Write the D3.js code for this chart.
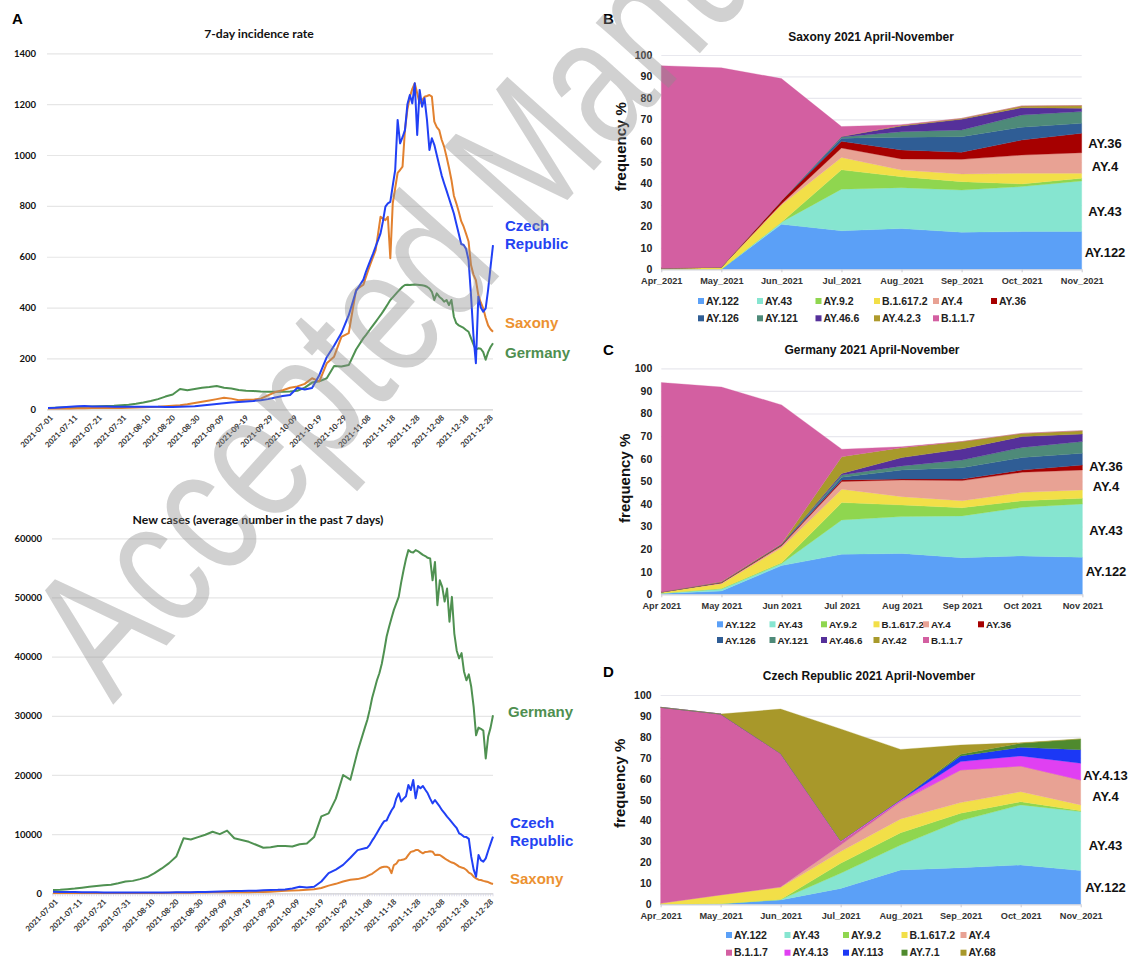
<!DOCTYPE html>
<html><head><meta charset="utf-8">
<script src="https://cdn.jsdelivr.net/npm/d3@7/dist/d3.min.js"></script>
<style>
html,body{margin:0;padding:0;background:#fff;}
svg{display:block;}
</style></head><body>
<svg id="chart" width="1132" height="960"></svg>
<script>
// ================= DATA =================
// Panel A: daily series from 2021-07-01; sampled every 3 days until day 129, then daily until day 182
const dateTicks = ["2021-07-01","2021-07-11","2021-07-21","2021-07-31","2021-08-10","2021-08-20","2021-08-30","2021-09-09","2021-09-19","2021-09-29","2021-10-09","2021-10-19","2021-10-29","2021-11-08","2021-11-18","2021-11-28","2021-12-08","2021-12-18","2021-12-28"];
const dayIdx = d3.range(0,130,3).concat(d3.range(130,183));

const incCzech = [5,6,8,10,12,13,11,11,11,10,10,10,10,10,10,10,9,9,10,11,12,15,18,21,24,27,29,31,33,36,40,46,52,56,85,78,84,135,205,250,300,370,465,510,
 540,565,590,613,640,665,692,740,797,810,816,880,941,1138,1046,1070,1098,1200,1236,1203,1282,1079,1256,1190,1223,1138,1020,1066,1040,1000,960,920,889,860,830,800,770,730,690,650,646,630,587,450,290,181,443,400,384,397,470,560,646];
const incSaxony = [3,3,3,3,4,4,5,5,5,5,5,6,7,8,9,10,12,14,16,20,25,30,35,40,45,42,36,38,38,42,55,68,75,85,90,100,122,110,181,207,285,300,470,490,
 520,548,575,600,626,690,757,750,744,757,594,810,870,930,941,954,1100,1180,1229,1260,1282,1243,1203,1215,1229,1232,1236,1230,1131,1110,1098,1060,1033,993,950,902,840,810,777,740,718,690,660,567,530,508,449,420,397,360,330,315,305];
const incGermany = [5,6,7,8,9,10,11,12,13,14,16,18,22,27,33,40,50,58,80,75,80,85,88,92,85,82,76,73,72,70,69,69,69,70,73,85,105,110,122,170,168,174,235,280,
 292,305,318,331,344,357,370,384,399,414,430,440,451,462,472,482,489,490,489,490,491,490,489,488,486,482,475,462,430,456,443,435,423,430,410,430,364,338,330,325,320,312,305,280,255,235,240,238,225,195,225,245,260];

const casesGermany = [550,600,700,800,950,1100,1250,1350,1450,1700,2000,2100,2400,2750,3400,4200,5100,6200,9300,9100,9500,9900,10400,10000,10600,9300,9000,8700,8200,7700,7800,8000,8000,7900,8300,8400,9500,13000,13500,16000,20000,19200,24000,28000,
 29300,31000,33000,34500,36000,37200,38800,41000,43400,45000,46500,47900,49000,50100,52500,54600,56500,58000,57700,57600,58000,57800,57500,57200,57000,56700,56600,52900,56000,48700,52900,51800,49300,51500,45900,50100,43900,41000,39700,40600,37500,36000,37000,34900,31500,26700,28000,27800,27500,22800,26500,28000,30100];
const casesCzech = [250,230,210,200,180,170,160,150,150,140,140,140,140,140,150,150,150,160,170,180,200,230,260,300,330,370,400,430,450,500,540,580,650,800,1100,1000,1100,2000,3400,4000,4800,6000,7300,7600,
 7700,8200,8900,9500,10200,10900,11600,12200,12300,13200,14000,14600,16050,16900,15500,16000,16400,18300,17460,19150,16050,18130,17750,18130,17500,16900,16000,15200,15770,15200,14640,14000,13500,12950,12500,12000,11500,11000,10140,9900,9570,9500,9200,6190,4000,2800,6470,5600,5340,5900,7200,8400,9570];
const casesSaxony = [40,40,40,40,40,40,40,40,40,40,40,45,50,55,60,70,80,90,100,110,130,150,160,170,180,180,180,190,200,230,280,350,420,480,500,600,700,900,1300,1600,2000,2300,2400,2700,
 2900,3100,3300,3600,3900,4200,4400,4500,4500,4300,3400,4780,5000,5600,5630,5700,5900,6500,7000,7100,7300,7320,7000,6760,7000,7030,7100,7030,6470,6500,6470,6200,5900,5630,5400,5200,5070,4800,4500,4350,4230,3940,3500,3300,2800,2530,2300,2250,2100,2000,1900,1700,1570];

const incTicks = [0,200,400,600,800,1000,1200,1400];
const casesTicks = [0,10000,20000,30000,40000,50000,60000];

// Panels B-D: monthly variant frequencies (%)
const monthsUnderscore = ["Apr_2021","May_2021","Jun_2021","Jul_2021","Aug_2021","Sep_2021","Oct_2021","Nov_2021"];
const monthsSpace = ["Apr 2021","May 2021","Jun 2021","Jul 2021","Aug 2021","Sep 2021","Oct 2021","Nov 2021"];
const freqTicks = [0,10,20,30,40,50,60,70,80,90,100];

const saxonyKeys = ["AY.122","AY.43","AY.9.2","B.1.617.2","AY.4","AY.36","AY.126","AY.121","AY.46.6","AY.4.2.3","B.1.1.7"];
const saxonyVals = [
 [0,0,21,18,19,17.3,17.6,17.6],
 [0,0,1,19.4,19.1,19.7,21,23.6],
 [0,0,0,9,5.1,3.9,1.2,1.3],
 [0.5,1,8,5.8,3.1,3.6,5,2.3],
 [0,0,0.5,4.4,5.2,6.8,8.5,9.6],
 [0,0,1.5,3.1,4.2,3.3,7,9.1],
 [0,0,0,1.5,5.9,7.3,6,4.6],
 [0,0,0,0.5,2.6,3.1,5.7,5.5],
 [0,0,0,0.3,2.7,5,3.4,1.5],
 [0,0,0,0,0.3,0.4,0.8,1.3],
 [94.5,93,57,4.6,0.3,0,0,0]
];
const germanyKeys = ["AY.122","AY.43","AY.9.2","B.1.617.2","AY.4","AY.36","AY.126","AY.121","AY.46.6","AY.42","B.1.1.7"];
const germanyVals = [
 [0.3,1.5,12.7,17.7,18.1,16.2,17,16.4],
 [0.2,0.9,0.9,15.2,16.3,18.5,21.5,23.6],
 [0,0.2,0.4,7.7,5.1,3.6,2.9,2.5],
 [0.5,2.1,6.6,5.9,3.7,3.1,3.7,3.7],
 [0,0.3,0.9,3.4,7.4,8.9,8.9,8.8],
 [0,0.2,0.3,0.7,0.4,0.7,1,2.2],
 [0,0.1,0.2,1.2,4,5,5.5,5.2],
 [0,0,0.1,1,1.8,3.4,4.5,5.2],
 [0,0,0,0.7,3.7,4.9,4.8,3.3],
 [0,0.2,0.3,7.4,4.4,3.3,1.4,1.5],
 [92.7,86.2,61.4,3.3,0.4,0,0,0]
];
const czechKeys = ["AY.122","AY.43","AY.9.2","B.1.617.2","AY.4","B.1.1.7","AY.4.13","AY.113","AY.7.1","AY.68"];
const czechVals = [
 [0,0.3,2.1,7.6,16.4,17.5,18.8,16.1],
 [0,0,0.2,7.2,11.9,22.5,28.7,28.2],
 [0,0,0,4.8,5.9,3.5,1.5,0.4],
 [0.5,4.2,5.8,5.6,6.6,5.1,4.8,2.8],
 [0,0,0.2,3.1,8.2,15.6,12.3,11.9],
 [93.6,86.4,63.8,1.6,0.3,0,0,0],
 [0,0,0,0.4,0.5,4,4.8,8],
 [0,0,0,0,0.3,2.7,4.1,6.5],
 [0,0,0,0,0,0.8,1.9,5.1],
 [0,0,21.2,53.5,23.9,4.4,0.3,0]
];

// ================= STYLE =================
const variantColor = {
 "AY.122":"#5ba0f7","AY.43":"#86e5d0","AY.9.2":"#8fd64f","B.1.617.2":"#f2df48","AY.4":"#e8a294",
 "AY.36":"#a60000","AY.126":"#2f5d95","AY.121":"#4e8a79","AY.46.6":"#55309a","AY.4.2.3":"#ae9a2c",
 "AY.42":"#a89a2b","B.1.1.7":"#d35fa1","AY.4.13":"#e040f2","AY.113":"#1c38f5","AY.7.1":"#4f8a2e","AY.68":"#a8982a"
};
const cBlue="#2140f5", cOrange="#e2812f", cGreen="#4f9151";
const fA = "Lato, 'Open Sans', sans-serif";
const fB = "'Liberation Sans', Arial, sans-serif";

const svg = d3.select("#chart");
svg.append("rect").attr("width",1132).attr("height",960).attr("fill","#fff");

// ================= PANEL A =================
function drawLinePanel(o){
  const g = svg.append("g");
  const x = d3.scaleLinear().domain([0,182]).range(o.xr);
  const y = d3.scaleLinear().domain(o.yd).range(o.yr);
  const ya = g.append("g").attr("transform",`translate(${o.gx0},0)`)
    .call(d3.axisLeft(y).tickValues(o.yticks).tickSize(-(o.xr[1]-o.gx0)).tickPadding(o.gx0-o.labX).tickFormat(d3.format("d")));
  ya.select(".domain").remove();
  ya.selectAll(".tick line").attr("stroke",d=>d===0?"#cfcfcf":"#e6e6e6").attr("stroke-width",1.2);
  ya.selectAll("text").attr("font-family",fA).attr("font-weight","700").attr("font-size",9.5).attr("fill","#111");
  if(o.minor){
    g.append("g").selectAll("line").data(d3.range(0,183)).join("line")
      .attr("x1",d=>x(d)).attr("x2",d=>x(d)).attr("y1",o.yr[0]).attr("y2",o.yr[0]+3)
      .attr("stroke","#d6d6e6").attr("stroke-width",0.8);
  }
  const xa = g.append("g").attr("transform",`translate(0,${o.yr[0]})`)
    .call(d3.axisBottom(x).tickValues(d3.range(0,181,10)).tickSize(0).tickFormat((d,i)=>dateTicks[i]));
  xa.select(".domain").remove();
  xa.selectAll("text").attr("y",0).attr("x",0).attr("dy","0.35em")
    .attr("transform",`translate(3,${o.xlabOff}) rotate(-45)`).attr("text-anchor","end")
    .attr("font-family",fA).attr("font-weight","700").attr("font-size",7.8).attr("fill","#333");
  const line = d3.line().x((d,i)=>x(dayIdx[i])).y(d=>y(d)).curve(d3.curveLinear);
  o.series.forEach(s=>{
    g.append("path").datum(s.values).attr("d",line).attr("fill","none")
      .attr("stroke",s.color).attr("stroke-width",2).attr("stroke-linejoin","round");
  });
  g.append("text").attr("x",o.titleX).attr("y",o.titleY).attr("text-anchor","middle")
    .attr("font-family",fA).attr("font-weight","700").attr("font-size",12.2).attr("fill","#111").text(o.title);
  o.labels.forEach(l=>{
    const t = g.append("text").attr("x",l.x).attr("y",l.y).attr("font-family",fB).attr("font-weight","700")
      .attr("font-size",15).attr("fill",l.color);
    l.lines.forEach((s,i)=>t.append("tspan").attr("x",l.x).attr("dy",i?18:0).text(s));
  });
}

svg.append("text").attr("x",12).attr("y",24).attr("font-family",fB).attr("font-weight","700").attr("font-size",15).attr("fill","#000").text("A");

drawLinePanel({
  xr:[48,493], gx0:47, labX:36, yd:[0,1400], yr:[409.3,53.3], yticks:incTicks, xlabOff:7, minor:false,
  title:"7-day incidence rate", titleX:259, titleY:37.5,
  series:[{values:incGermany,color:cGreen},{values:incSaxony,color:cOrange},{values:incCzech,color:cBlue}],
  labels:[
    {x:505,y:231,color:"#2443f2",lines:["Czech","Republic"]},
    {x:505,y:327.5,color:"#ec9231",lines:["Saxony"]},
    {x:505,y:357.5,color:"#4f8f50",lines:["Germany"]}
  ]
});
drawLinePanel({
  xr:[53,493], gx0:52, labX:42, yd:[0,60000], yr:[893.3,538.3], yticks:casesTicks, xlabOff:7, minor:true,
  title:"New cases (average number in the past 7 days)", titleX:258, titleY:523.5,
  series:[{values:casesGermany,color:cGreen},{values:casesSaxony,color:cOrange},{values:casesCzech,color:cBlue}],
  labels:[
    {x:508,y:716.5,color:"#4f8f50",lines:["Germany"]},
    {x:510,y:827.7,color:"#2443f2",lines:["Czech","Republic"]},
    {x:510,y:884,color:"#ec9231",lines:["Saxony"]}
  ]
});

// ================= PANELS B-D =================
function drawStack(o){
  const g = svg.append("g");
  const x = d3.scaleLinear().domain([0,7]).range(o.xr);
  const y = d3.scaleLinear().domain([0,100]).range(o.yr);
  const ya = g.append("g").attr("transform",`translate(${o.xr[0]},0)`)
    .call(d3.axisLeft(y).tickValues(freqTicks).tickSize(-(o.xr[1]-o.xr[0])).tickPadding(9));
  ya.select(".domain").remove();
  ya.selectAll(".tick line").attr("stroke","#e8e8ee").attr("stroke-width",1.2);
  ya.selectAll("text").attr("font-family",fB).attr("font-weight","700").attr("font-size",10.5).attr("fill","#222");
  const rows = o.months.map((m,i)=>{const r={}; o.keys.forEach((k,j)=>r[k]=o.vals[j][i]); return r;});
  const stacked = d3.stack().keys(o.keys)(rows);
  const area = d3.area().x((d,i)=>x(i)).y0(d=>y(d[0])).y1(d=>y(d[1]));
  g.append("g").selectAll("path").data(stacked).join("path")
    .attr("d",area).attr("fill",d=>variantColor[d.key]).attr("stroke",d=>variantColor[d.key]).attr("stroke-width",0.3);
  const xa = g.append("g").attr("transform",`translate(0,${o.yr[0]})`)
    .call(d3.axisBottom(x).tickValues(d3.range(8)).tickFormat(i=>o.months[i]).tickSize(3).tickSizeOuter(0).tickPadding(5));
  xa.select(".domain").attr("stroke","#d4d4dc");
  xa.selectAll(".tick line").attr("stroke","#c8c8d0");
  xa.selectAll("text").attr("font-family",fB).attr("font-weight","700").attr("font-size",9.2).attr("fill","#333");
  g.append("text").attr("x",o.letterX).attr("y",o.letterY).attr("font-family",fB).attr("font-weight","700").attr("font-size",15).attr("fill","#000").text(o.letter);
  g.append("text").attr("x",o.titleX).attr("y",o.titleY).attr("text-anchor","middle").attr("font-family",fB).attr("font-weight","700").attr("font-size",12).attr("fill","#111").text(o.title);
  g.append("text").attr("transform",`translate(${o.ytX},${o.ytY}) rotate(-90)`).attr("text-anchor","middle").attr("dy","0.35em")
    .attr("font-family",fB).attr("font-weight","700").attr("font-size",15).attr("fill","#111").text("frequency %");
  o.rightLabels.forEach(l=>{
    g.append("text").attr("x",o.rlX).attr("y",l.y).attr("text-anchor","middle").attr("font-family",fB)
      .attr("font-weight","700").attr("font-size",13).attr("fill","#111").text(l.t);
  });
  o.legendRows.forEach((row,ri)=>{
    row.forEach((k,ci)=>{
      const lx = o.legCols[ci], ly = o.legY[ri];
      g.append("rect").attr("x",lx-3).attr("y",ly-3).attr("width",6).attr("height",6).attr("fill",variantColor[k]);
      g.append("text").attr("x",lx+5).attr("y",ly).attr("dy","0.36em").attr("font-family",fB).attr("font-weight","700")
        .attr("font-size",o.legFont).attr("fill","#222").text(k);
    });
  });
}

drawStack({
  xr:[661.3,1081.7], yr:[269.3,55], keys:saxonyKeys, vals:saxonyVals, months:monthsUnderscore,
  letter:"B", letterX:603, letterY:24, title:"Saxony 2021 April-November", titleX:871, titleY:40.5,
  ytX:621, ytY:146.7, rlX:1105,
  rightLabels:[{t:"AY.36",y:148},{t:"AY.4",y:171.4},{t:"AY.43",y:215.7},{t:"AY.122",y:257}],
  legendRows:[["AY.122","AY.43","AY.9.2","B.1.617.2","AY.4","AY.36"],["AY.126","AY.121","AY.46.6","AY.4.2.3","B.1.1.7"]],
  legCols:[701,760,818.5,877,936,994], legY:[301,318.3], legFont:10.5
});
drawStack({
  xr:[661.3,1082.4], yr:[594.3,368.3], keys:germanyKeys, vals:germanyVals, months:monthsSpace,
  letter:"C", letterX:603, letterY:355, title:"Germany 2021 April-November", titleX:872, titleY:354,
  ytX:624.4, ytY:478.3, rlX:1106,
  rightLabels:[{t:"AY.36",y:470.7},{t:"AY.4",y:490.7},{t:"AY.43",y:534.7},{t:"AY.122",y:576.4}],
  legendRows:[["AY.122","AY.43","AY.9.2","B.1.617.2","AY.4","AY.36"],["AY.126","AY.121","AY.46.6","AY.42","B.1.1.7"]],
  legCols:[720,772.5,824,876.5,926,981], legY:[624.3,640], legFont:9.8
});
drawStack({
  xr:[660.6,1080.7], yr:[904.3,695], keys:czechKeys, vals:czechVals, months:monthsUnderscore,
  letter:"D", letterX:603, letterY:677, title:"Czech Republic 2021 April-November", titleX:869, titleY:680,
  ytX:619.3, ytY:783.3, rlX:1105.5,
  rightLabels:[{t:"AY.4.13",y:779.7},{t:"AY.4",y:801.4},{t:"AY.43",y:850.4},{t:"AY.122",y:892}],
  legendRows:[["AY.122","AY.43","AY.9.2","B.1.617.2","AY.4"],["B.1.1.7","AY.4.13","AY.113","AY.7.1","AY.68"]],
  legCols:[729,787.5,846,904.5,963.5], legY:[935,952.7], legFont:10.5
});

// ================= WATERMARK =================
svg.append("text").attr("transform","translate(113,705) rotate(-48) scale(0.76,1)")
  .attr("font-family",fB).attr("font-size",185).attr("fill","#8c8c8c").attr("fill-opacity",0.4)
  .style("pointer-events","none").text("Accepted Manuscript");
</script>
</body></html>
